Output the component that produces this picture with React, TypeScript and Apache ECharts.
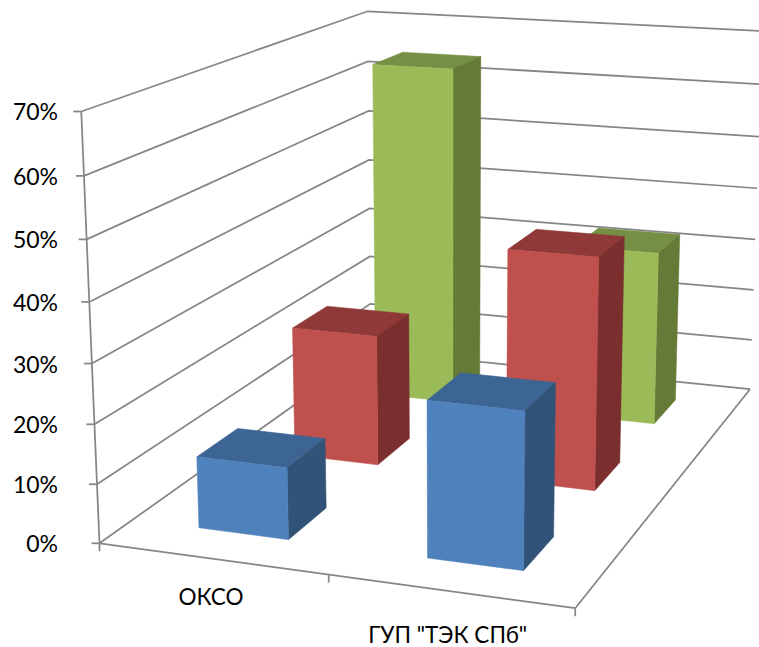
import React, { useEffect, useRef } from "react";
import * as echarts from "echarts";

const categories = ["ОКСО", 'ГУП "ТЭК СПб"'];
const blueValues = [12.2, 26];
const redValues = [23.5, 41];
const greenValues = [64.2, 32.6];
const tickValues = [0, 10, 20, 30, 40, 50, 60, 70];
const MAX_VALUE = 70;

const FONT = "Lato, 'Open Sans', sans-serif";
const AXIS = "#868686";

// Camera calibration: cube corner (x, depth, height) -> screen pixel
const calibration: number[][] = [
  [0, 0, 0, 98.3, 542.7],
  [1, 0, 0, 575.7, 608.3],
  [1, 1, 0, 749.3, 389.3],
  [0, 1, 0, 372, 351],
  [0, 0, 1, 82, 112],
  [0, 1, 1, 366.7, 11],
  [1, 1, 1, 763, 31],
];

function solveCamera(rows: number[][]): number[] {
  const a: number[][] = [];
  const b: number[] = [];
  rows.forEach(([X, Y, Z, u, v]) => {
    a.push([X, Y, Z, 1, 0, 0, 0, 0, -u * X, -u * Y, -u * Z]);
    b.push(u);
    a.push([0, 0, 0, 0, X, Y, Z, 1, -v * X, -v * Y, -v * Z]);
    b.push(v);
  });
  const n = 11;
  const m: number[][] = [];
  for (let i = 0; i < n; i++) {
    const row: number[] = [];
    for (let j = 0; j < n; j++) {
      let s = 0;
      a.forEach((r) => (s += r[i] * r[j]));
      row.push(s);
    }
    let t = 0;
    a.forEach((r, k) => (t += r[i] * b[k]));
    row.push(t);
    m.push(row);
  }
  for (let i = 0; i < n; i++) {
    let p = i;
    for (let k = i + 1; k < n; k++) if (Math.abs(m[k][i]) > Math.abs(m[p][i])) p = k;
    [m[i], m[p]] = [m[p], m[i]];
    for (let k = 0; k < n; k++) {
      if (k === i) continue;
      const f = m[k][i] / m[i][i];
      for (let j = i; j <= n; j++) m[k][j] -= f * m[i][j];
    }
  }
  return m.map((r, i) => r[n] / r[i]);
}

const cam = solveCamera(calibration);
function project(x: number, y: number, z: number): number[] {
  const w = cam[8] * x + cam[9] * y + cam[10] * z + 1;
  return [
    (cam[0] * x + cam[1] * y + cam[2] * z + cam[3]) / w,
    (cam[4] * x + cam[5] * y + cam[6] * z + cam[7]) / w,
  ];
}

const BAR_W = 0.2;
const BAR_D = 0.1333;

function barSeries(name: string, values: number[], row: number, front: string, top: string, side: string) {
  return {
    type: "custom",
    name,
    coordinateSystem: "none",
    silent: true,
    data: values.map((v, i) => [i, v]),
    renderItem: (_p: any, api: any) => {
      const cat = api.value(0);
      const h = api.value(1) / MAX_VALUE;
      const cx = (cat + 0.5) / categories.length;
      const cy = (row + 0.5) / 3;
      const x0 = cx - BAR_W / 2, x1 = cx + BAR_W / 2;
      const y0 = cy - BAR_D / 2, y1 = cy + BAR_D / 2;
      const face = (pts: number[][], fill: string) => ({
        type: "polygon",
        shape: { points: pts },
        style: { fill, stroke: fill, lineWidth: 0.5 },
      });
      return {
        type: "group",
        children: [
          face([project(x0, y1, h), project(x1, y1, h), project(x1, y0, h), project(x0, y0, h)], top),
          face([project(x1, y0, 0), project(x1, y1, 0), project(x1, y1, h), project(x1, y0, h)], side),
          face([project(x0, y0, 0), project(x1, y0, 0), project(x1, y0, h), project(x0, y0, h)], front),
        ],
      };
    },
  };
}

const gridStyle = { stroke: AXIS, lineWidth: 1.75, fill: "none" };

const wallSeries = {
  type: "custom",
  name: "walls",
  coordinateSystem: "none",
  silent: true,
  data: tickValues.map((t) => [t]),
  renderItem: (_p: any, api: any) => {
    const t = api.value(0);
    const z = t / MAX_VALUE;
    const p = project(0, 0, z);
    return {
      type: "group",
      children: [
        {
          type: "polyline",
          shape: { points: [p, project(0, 1, z), project(1, 1, z)] },
          style: gridStyle,
        },
        {
          type: "line",
          shape: { x1: p[0] - 8, y1: p[1], x2: p[0], y2: p[1] },
          style: gridStyle,
        },
        {
          type: "text",
          style: {
            text: t + "%",
            x: 58,
            y: p[1],
            align: "right",
            verticalAlign: "middle",
            font: `23px ${FONT}`,
            fill: "#000",
          },
        },
      ],
    };
  },
};

const frameSeries = {
  type: "custom",
  name: "frame",
  coordinateSystem: "none",
  silent: true,
  data: [[0]],
  renderItem: () => {
    const a = project(0, 0, 0), b = project(1, 0, 0), c = project(1, 1, 0), e = project(0, 0, 1);
    const m = project(0.5, 0, 0);
    const line = (p: number[], q: number[]) => ({
      type: "line",
      shape: { x1: p[0], y1: p[1], x2: q[0], y2: q[1] },
      style: gridStyle,
    });
    return {
      type: "group",
      children: [
        line(a, e),
        line(a, b),
        line(b, c),
        line(a, [a[0], a[1] + 8]),
        line(m, [m[0], m[1] + 8]),
        line(b, [b[0], b[1] + 8]),
      ],
    };
  },
};

const labelGap = [38, 43.5];
const labelShift = [-1, -2];

const labelSeries = {
  type: "custom",
  name: "categories",
  coordinateSystem: "none",
  silent: true,
  data: categories.map((_, i) => [i]),
  renderItem: (_p: any, api: any) => {
    const i = api.value(0);
    const p = project((i + 0.5) / categories.length, 0, 0);
    return {
      type: "text",
      style: {
        text: categories[i],
        x: p[0] + labelShift[i],
        y: p[1] + labelGap[i],
        align: "center",
        verticalAlign: "middle",
        font: `22.5px ${FONT}`,
        fill: "#000",
      },
    };
  },
};

export default function App() {
  const ref = useRef<HTMLDivElement>(null);
  useEffect(() => {
    document.body.style.margin = "0";
    const chart = echarts.init(ref.current!, undefined, { renderer: "svg" });
    chart.setOption({
      animation: false,
      backgroundColor: "#fff",
      series: [
        wallSeries,
        frameSeries,
        labelSeries,
        barSeries("green", greenValues, 2, "#9BBB59", "#758F44", "#647A36"),
        barSeries("red", redValues, 1, "#C0504D", "#8F3A38", "#7A2F2E"),
        barSeries("blue", blueValues, 0, "#4F81BD", "#3D6594", "#325378"),
      ],
    });
    return () => chart.dispose();
  }, []);
  return <div ref={ref} style={{ width: 759, height: 647 }} />;
}
